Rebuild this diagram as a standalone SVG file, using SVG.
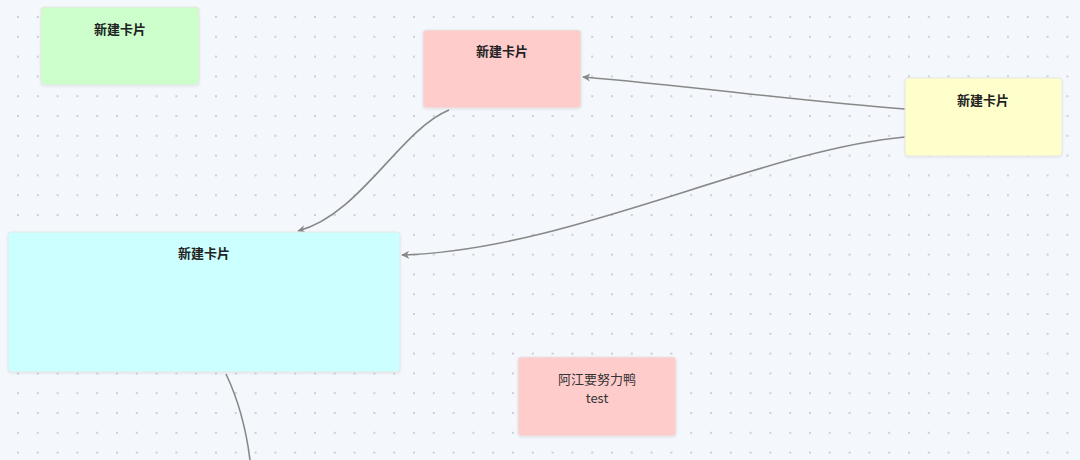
<svg xmlns="http://www.w3.org/2000/svg" width="1080" height="460" viewBox="0 0 1080 460">
<style>
.card{stroke:#e6e6e6;stroke-width:1}
.title{font-family:"Noto Sans CJK SC","Noto Sans",sans-serif;font-size:13px;font-weight:600;fill:#222;text-anchor:middle}
.body{font-family:"Noto Sans CJK SC","Noto Sans",sans-serif;font-size:13px;fill:#333;text-anchor:middle}
.link{fill:none;stroke:#888;stroke-width:1.6}
</style>
<defs>
<pattern id="dots" x="8.1" y="7.1" width="19.8" height="19.8" patternUnits="userSpaceOnUse">
<circle cx="9.9" cy="9.9" r="0.9" fill="#b9bec6"/>
</pattern>
<marker id="arr" viewBox="0 0 10 10" refX="9" refY="5" markerWidth="8" markerHeight="8" markerUnits="userSpaceOnUse" orient="auto">
<path d="M0,0 L10,5 L0,10 L3,5 Z" fill="#888"/>
</marker>
<filter id="sh" x="-5%" y="-5%" width="110%" height="115%">
<feDropShadow dx="0" dy="1" stdDeviation="1" flood-color="#000" flood-opacity="0.08"/>
</filter>
</defs>
<rect width="1080" height="460" fill="#f4f7fb"/>
<rect width="1080" height="460" fill="url(#dots)"/>
<g id="connectors">
<path class="link" d="M905,109 C800,101 690,86 583,77" marker-end="url(#arr)"/>
<path class="link" d="M905,137 C760,150 570,250 402,255" marker-end="url(#arr)"/>
<path class="link" d="M449,110 C400,130 360,215 298,231" marker-end="url(#arr)"/>
<path class="link" d="M226,374 C236,395 245,420 250,460"/>
</g>
<g id="card-green">
<rect class="card" x="41" y="7" width="158" height="78" rx="3" fill="#ccffcc" filter="url(#sh)"/>
<text class="title" x="120" y="34">新建卡片</text>
</g>
<g id="card-pink-top">
<rect class="card" x="423" y="30" width="158" height="78" rx="3" fill="#ffcccc" filter="url(#sh)"/>
<text class="title" x="502" y="56">新建卡片</text>
</g>
<g id="card-yellow">
<rect class="card" x="905" y="78" width="157" height="78" rx="3" fill="#ffffcc" filter="url(#sh)"/>
<text class="title" x="983" y="105">新建卡片</text>
</g>
<g id="card-cyan">
<rect class="card" x="8" y="232" width="392" height="140" rx="3" fill="#ccffff" filter="url(#sh)"/>
<text class="title" x="204" y="258">新建卡片</text>
</g>
<g id="card-pink-bottom">
<rect class="card" x="518" y="357" width="158" height="79" rx="3" fill="#ffcccc" filter="url(#sh)"/>
<text class="body" x="597" y="384">阿江要努力鸭</text>
<text class="body" x="597" y="403">test</text>
</g>
</svg>
